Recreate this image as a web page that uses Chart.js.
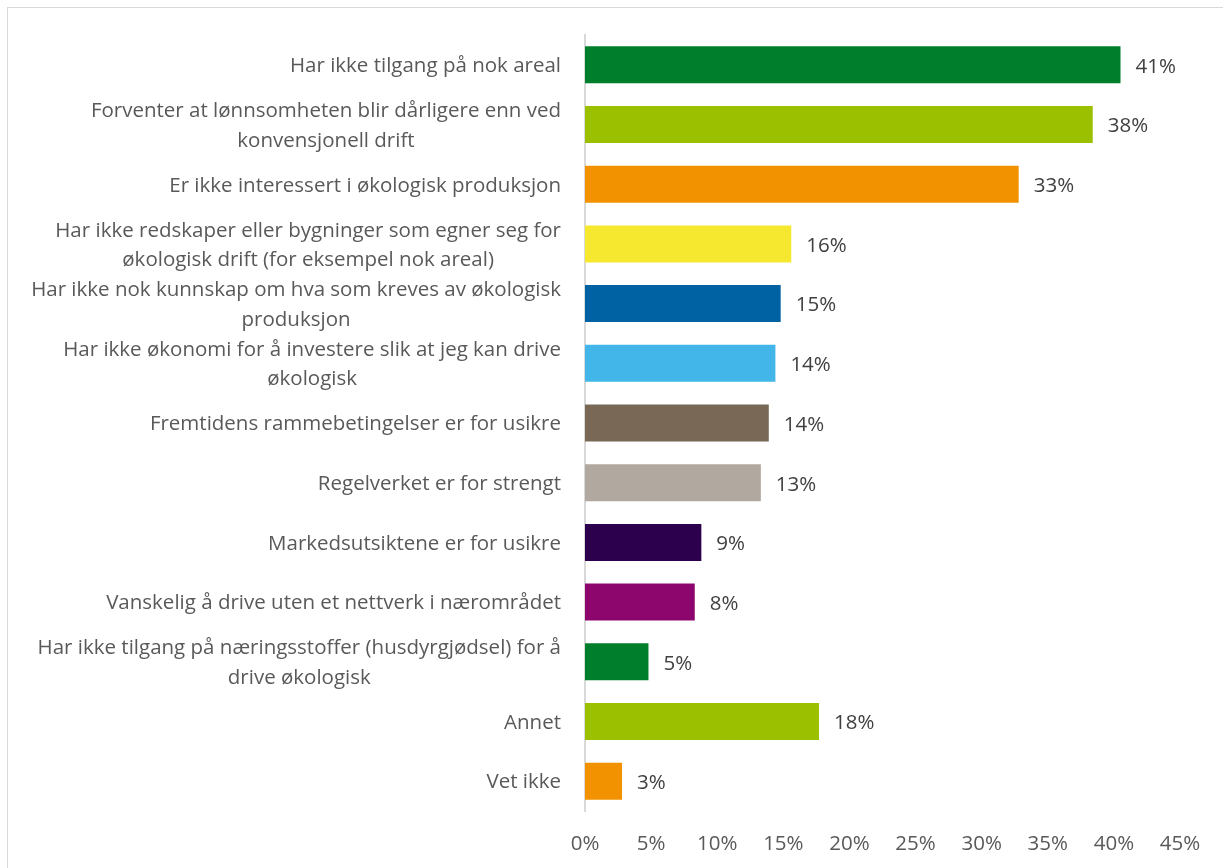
<!DOCTYPE html>
<html lang="no">
  <head>
    <meta charset="UTF-8" />
    <title>Årsaker til å ikke drive økologisk</title>
    <script src="https://cdn.jsdelivr.net/npm/chart.js"></script>
    <style>
      html, body { margin: 0; padding: 0; background: #fff; overflow: hidden; }
      .frame {
        position: absolute;
        left: 7px;
        top: 7px;
        width: 1240px;
        height: 900px;
        border: 1.5px solid #d9d9d9;
      }
      #wrap { position: absolute; left: 0; top: 0; width: 1223px; height: 868px; }
    </style>
  </head>
  <body>
    <div class="frame"></div>
    <div id="wrap"><canvas id="reasonsChart" width="1223" height="868"></canvas></div>

    <script>
      // Svaralternativer (linjeskift som i figuren)
      const categories = [
        ["Har ikke tilgang på nok areal"],
        ["Forventer at lønnsomheten blir dårligere enn ved", "konvensjonell drift"],
        ["Er ikke interessert i økologisk produksjon"],
        ["Har ikke redskaper eller bygninger som egner seg for", "økologisk drift (for eksempel nok areal)"],
        ["Har ikke nok kunnskap om hva som kreves av økologisk", "produksjon"],
        ["Har ikke økonomi for å investere slik at jeg kan drive", "økologisk"],
        ["Fremtidens rammebetingelser er for usikre"],
        ["Regelverket er for strengt"],
        ["Markedsutsiktene er for usikre"],
        ["Vanskelig å drive uten et nettverk i nærområdet"],
        ["Har ikke tilgang på næringsstoffer (husdyrgjødsel) for å", "drive økologisk"],
        ["Annet"],
        ["Vet ikke"],
      ];

      // Andel som svarte (%)
      const shares = [40.5, 38.4, 32.8, 15.6, 14.8, 14.4, 13.9, 13.3, 8.8, 8.3, 4.8, 17.7, 2.8];

      const barColors = [
        "#007e2b", "#9bc000", "#f39200", "#f6e72f", "#0061a3", "#42b6e8", "#7a6856",
        "#b1a89f", "#2d004d", "#8c066e", "#007e2b", "#9bc000", "#f39200",
      ];

      const xTicks = [0, 5, 10, 15, 20, 25, 30, 35, 40, 45];

      const FONT = "'Open Sans', 'Noto Sans', sans-serif";
      const FONT_SIZE = 20.5;

      // Kategorietiketter: linjene sentreres innbyrdes, blokken høyrejusteres mot aksen
      const categoryLabels = {
        id: "categoryLabels",
        afterDraw(chart) {
          const ctx = chart.ctx;
          const y = chart.scales.y;
          const right = chart.chartArea.left - 24;
          const lineH = 29.5;
          ctx.save();
          ctx.font = FONT_SIZE + "px " + FONT;
          ctx.fillStyle = "#595959";
          ctx.textAlign = "center";
          ctx.textBaseline = "middle";
          categories.forEach((lines, i) => {
            const cy = y.getPixelForValue(i) + 1.5;
            const w = Math.max(...lines.map((l) => ctx.measureText(l).width));
            const cx = right - w / 2;
            lines.forEach((l, k) => {
              ctx.fillText(l, cx, cy + (k - (lines.length - 1) / 2) * lineH);
            });
          });
          ctx.restore();
        },
      };

      // Verdietiketter til høyre for hver søyle
      const valueLabels = {
        id: "valueLabels",
        afterDatasetsDraw(chart) {
          const ctx = chart.ctx;
          const meta = chart.getDatasetMeta(0);
          ctx.save();
          ctx.font = FONT_SIZE + "px " + FONT;
          ctx.fillStyle = "#404040";
          ctx.textAlign = "left";
          ctx.textBaseline = "middle";
          meta.data.forEach((bar, i) => {
            ctx.fillText(Math.round(shares[i]) + "%", bar.x + 15, bar.y + 2);
          });
          ctx.restore();
        },
      };

      new Chart(document.getElementById("reasonsChart"), {
        type: "bar",
        data: {
          labels: categories.map((c) => c.join(" ")),
          datasets: [
            {
              data: shares,
              backgroundColor: barColors,
              borderWidth: 0,
              barPercentage: 0.62,
              categoryPercentage: 1,
            },
          ],
        },
        options: {
          indexAxis: "y",
          responsive: false,
          animation: false,
          layout: { padding: { top: 35, right: 43, bottom: 0, left: 0 } },
          plugins: {
            legend: { display: false },
            tooltip: { enabled: false },
          },
          scales: {
            x: {
              min: 0,
              max: 45,
              afterBuildTicks: (scale) => {
                scale.ticks = xTicks.map((v) => ({ value: v }));
              },
              grid: { display: false, drawTicks: false },
              border: { display: false },
              ticks: {
                padding: 21,
                color: "#595959",
                font: { family: FONT, size: FONT_SIZE },
                callback: (v) => v + "%",
              },
              afterFit: (scale) => {
                scale.height = 57;
              },
            },
            y: {
              grid: { display: false, drawTicks: false },
              border: { display: true, color: "#d9d9d9", width: 2 },
              ticks: { display: false },
              afterFit: (scale) => {
                scale.width = 585;
              },
            },
          },
        },
        plugins: [categoryLabels, valueLabels],
      });
    </script>
  </body>
</html>
